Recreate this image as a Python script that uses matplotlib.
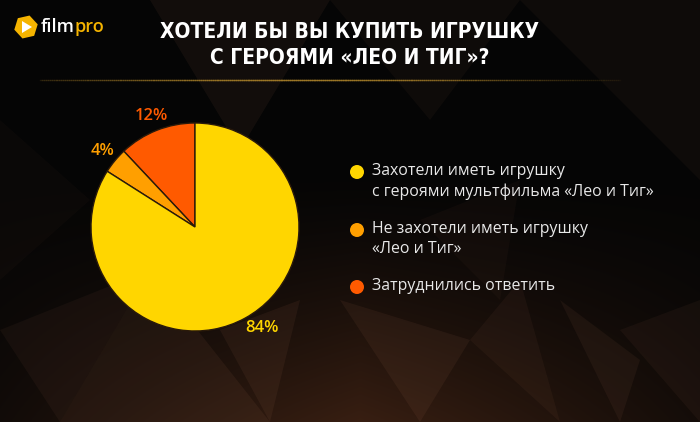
import numpy as np
import matplotlib
matplotlib.use("Agg")
import matplotlib.pyplot as plt
from matplotlib.patches import Polygon, Circle, RegularPolygon

# данные
categories = ["Затруднились ответить",
              "Не захотели иметь игрушку\n«Лео и Тиг»",
              "Захотели иметь игрушку\nс героями мультфильма «Лео и Тиг»"]
values = [12, 4, 84]
colors = ["#ff5a00", "#ff9f00", "#ffd600"]
pct_labels = ["12%", "4%", "84%"]

W, H = 700, 422
fig = plt.figure(figsize=(7, 4.22), dpi=100)

# фон
bg = fig.add_axes([0, 0, 1, 1])
bg.set_xlim(0, W)
bg.set_ylim(H, 0)
bg.axis("off")
yy, xx = np.mgrid[0:H, 0:W]
glow = np.clip((yy - 170) / 252.0, 0, 1) ** 1.3
glow *= np.clip(1 - np.abs(xx - 360) / 480.0, 0.2, 1)
base = np.array([0.02, 0.02, 0.02])
brown = np.array([0.22, 0.12, 0.07])
img = base + glow[..., None] * (brown - base)
bg.imshow(img, extent=[0, W, H, 0], aspect="auto", zorder=0)

# полигональная текстура
tris = [
    [(150, 0), (330, 0), (240, 150)],
    [(330, 0), (520, 0), (430, 120)],
    [(520, 0), (700, 0), (700, 180)],
    [(0, 330), (150, 270), (60, 422)],
    [(150, 270), (270, 422), (60, 422)],
    [(220, 330), (300, 300), (270, 422)],
    [(340, 300), (470, 340), (420, 422)],
    [(470, 340), (520, 280), (560, 422)],
    [(560, 300), (640, 360), (620, 422)],
    [(620, 330), (700, 300), (700, 422)],
    [(420, 220), (520, 180), (500, 300)],
    [(0, 120), (90, 200), (0, 280)],
]
shades = [0.07, 0.05, 0.05, 0.06, 0.08, 0.08, 0.08, 0.06, 0.07, 0.06, 0.04, 0.03]
for t, a in zip(tris, shades):
    bg.add_patch(Polygon(t, closed=True, facecolor="#c08060", alpha=a,
                         edgecolor="none", zorder=1))

# разделитель под заголовком
xs = np.linspace(40, 620, 300)
for i in range(len(xs) - 1):
    a = 0.9 * np.exp(-((xs[i] - 300) / 200.0) ** 2)
    bg.plot(xs[i:i + 2], [80, 80], color="#a07a28", alpha=a, lw=1, zorder=2)

# логотип
bg.add_patch(RegularPolygon((26, 27), 6, radius=12, orientation=0.3,
                            facecolor="#f5b400", edgecolor="none", zorder=3))
bg.add_patch(Polygon([(22, 21), (22, 33), (32, 27)], closed=True,
                     facecolor="white", edgecolor="none", zorder=4))
bg.text(41, 27, "film", color="white", fontsize=13, fontweight="semibold",
        family="Open Sans", va="center", ha="left", zorder=4)
bg.text(75, 27, "pro", color="#f5b400", fontsize=13, fontweight="semibold",
        family="Open Sans", va="center", ha="left", zorder=4)

# заголовок
bg.text(350, 45, "ХОТЕЛИ БЫ ВЫ КУПИТЬ ИГРУШКУ\nС ГЕРОЯМИ «ЛЕО И ТИГ»?",
        color="white", fontsize=15, fontweight="bold", fontstretch="condensed",
        family="DejaVu Sans",
        ha="center", va="center", linespacing=1.38, zorder=4)

# круговая диаграмма
cx, cy, r = 195, 227, 104
half = 125
ax = fig.add_axes([(cx - half) / W, (H - cy - half) / H, 2 * half / W, 2 * half / H])
lim = half / r
wedges, texts = ax.pie(values, colors=colors, startangle=90, counterclock=True,
                       labels=pct_labels, labeldistance=1.15,
                       wedgeprops=dict(edgecolor="#2a1a0a", linewidth=1))
ax.set_xlim(-lim, lim)
ax.set_ylim(-lim, lim)
ax.axis("off")
for t, c in zip(texts, colors):
    t.set_color(c)
    t.set_fontsize(12)
    t.set_fontweight("semibold")
    t.set_family("Open Sans")
    t.set_ha("center")
    t.set_va("center")
# подпись 84% чуть правее, как в оригинале
x84, y84 = texts[2].get_position()
texts[2].set_position((x84 + 0.09, y84 + 0.04))

# легенда
leg_y = [172, 230, 287]
leg_text = [categories[2], categories[1], categories[0]]
leg_col = [colors[2], colors[1], colors[0]]
for y, txt, c in zip(leg_y, leg_text, leg_col):
    bg.add_patch(Circle((357, y), 7, facecolor=c, edgecolor="none", zorder=4))
    bg.text(372, y - 9, txt, color="#e8e8e8", fontsize=11.4, family="Open Sans",
            ha="left", va="top", linespacing=1.32, zorder=4)

fig.savefig("out.png", dpi=100)
